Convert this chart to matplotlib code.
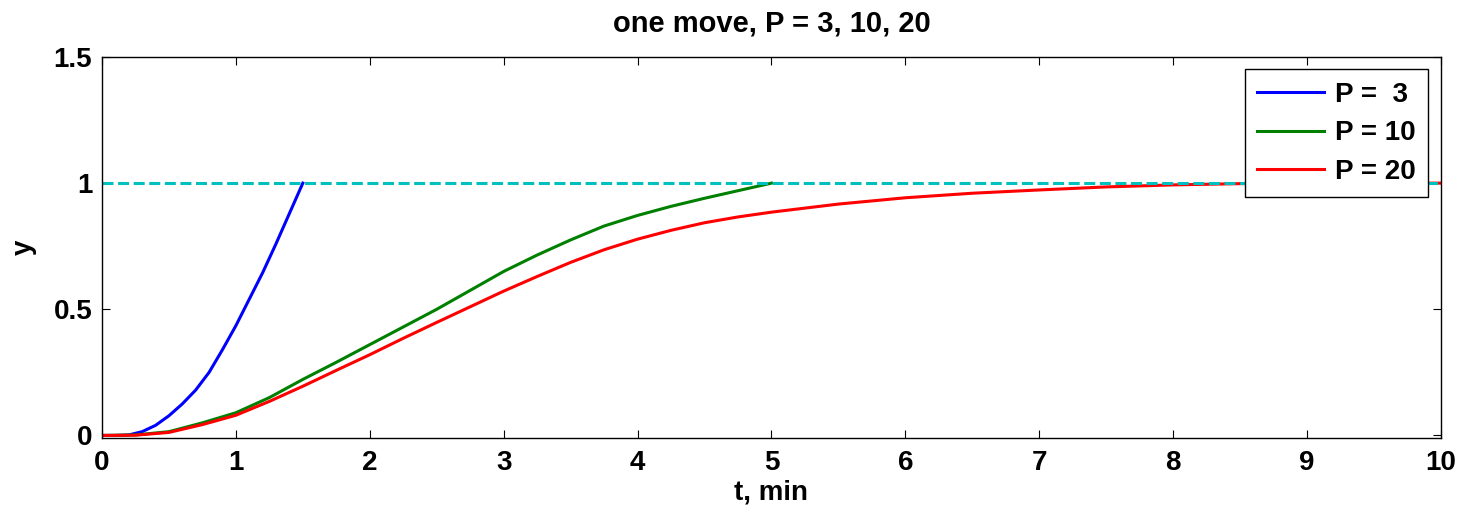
import numpy as np
import matplotlib
matplotlib.use('Agg')
import matplotlib.pyplot as plt

# values
t_p3 = [0, 0.1, 0.2, 0.3, 0.4, 0.5, 0.6, 0.7, 0.8, 0.9, 1.0, 1.1, 1.2, 1.3, 1.4, 1.5]
y_p3 = [0, 0, 0.002, 0.015, 0.04, 0.078, 0.125, 0.18, 0.25, 0.34, 0.435, 0.54, 0.645, 0.76, 0.88, 1.0]

t_p10 = [0, 0.25, 0.5, 0.75, 1.0, 1.25, 1.5, 1.75, 2.0, 2.25, 2.5, 2.75, 3.0, 3.25, 3.5,
         3.75, 4.0, 4.25, 4.5, 4.75, 5.0]
y_p10 = [0, 0.002, 0.015, 0.05, 0.09, 0.15, 0.222, 0.29, 0.36, 0.43, 0.5, 0.575, 0.65, 0.715, 0.775,
         0.83, 0.872, 0.908, 0.94, 0.97, 1.0]

t_p20 = [0, 0.25, 0.5, 0.75, 1.0, 1.25, 1.5, 1.75, 2.0, 2.25, 2.5, 2.75, 3.0, 3.25, 3.5,
         3.75, 4.0, 4.25, 4.5, 4.75, 5.0, 5.5, 6.0, 6.5, 7.0, 7.5, 8.0, 8.5, 9.0, 9.5, 10.0]
y_p20 = [0, 0.001, 0.012, 0.043, 0.08, 0.135, 0.195, 0.258, 0.32, 0.385, 0.448, 0.51, 0.572, 0.63, 0.686,
         0.736, 0.778, 0.813, 0.843, 0.866, 0.885, 0.917, 0.942, 0.96, 0.973, 0.985, 0.993, 0.998, 1.0, 1.0, 1.0]

setpoint_t = [0, 10]
setpoint_y = [1, 1]

xticks = list(range(0, 11))
yticks = [0, 0.5, 1, 1.5]
ytick_labels = ['0', '0.5', '1', '1.5']

plt.rcParams['font.family'] = ['Liberation Sans', 'DejaVu Sans']
plt.rcParams['font.weight'] = 'bold'

fig = plt.figure(figsize=(14.65, 5.11), dpi=100)
ax = fig.add_axes([0.0696, 0.1429, 0.914, 0.7456])

ax.plot(t_p3, y_p3, color=(0, 0, 1), lw=2.2, label='P =  3')
ax.plot(t_p10, y_p10, color=(0, 0.5, 0), lw=2.2, label='P = 10')
ax.plot(t_p20, y_p20, color=(1, 0, 0), lw=2.2, label='P = 20')
ax.plot(setpoint_t, setpoint_y, color=(0, 0.75, 0.75), lw=2.2, dashes=(3.6, 1.5))

ax.set_xlim(0, 10)
ax.set_ylim(-0.01, 1.5)
ax.set_xticks(xticks)
ax.set_yticks(yticks)
ax.set_yticklabels(ytick_labels)
ax.tick_params(direction='in', top=True, right=True, length=6, width=0.8, labelsize=20)
ax.tick_params(axis='x', pad=9)
ax.tick_params(axis='y', pad=7)
for s in ax.spines.values():
    s.set_linewidth(1.0)

ax.set_title('one move, P = 3, 10, 20', fontsize=21, fontweight='bold', pad=18)
ax.set_xlabel('t, min', fontsize=20, fontweight='bold', labelpad=2)
ax.set_ylabel('y', fontsize=20, fontweight='bold', labelpad=12)

leg = ax.legend(loc='upper right', fontsize=20, fancybox=False, framealpha=1,
                edgecolor='black', handlelength=2.4, labelspacing=0.45,
                borderaxespad=0.45, handletextpad=0.4, borderpad=0.45)
leg.get_frame().set_linewidth(1.0)

plt.savefig('out.png', dpi=100)
